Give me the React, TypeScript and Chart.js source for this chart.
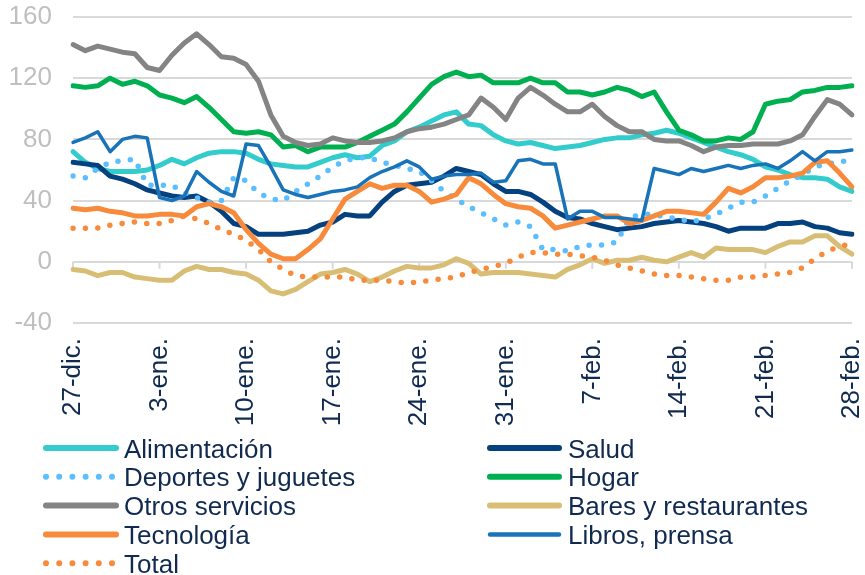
import React, { useEffect, useRef } from 'react';
import { Chart, registerables } from 'chart.js';

Chart.register(...registerables);

// Category axis: daily from 27-dic. to 28-feb.
const monthSpans: [string, number, number][] = [
  ['dic', 27, 31],
  ['ene', 1, 31],
  ['feb', 1, 28],
];
const categories: string[] = [];
for (const [m, a, b] of monthSpans) {
  for (let d = a; d <= b; d++) categories.push(`${d}-${m}.`);
}

const yTicks = [-40, 0, 40, 80, 120, 160];

const alimentacion = [72,65,61,59,59,59,60,63,67,64,68,71,72,72,71,67,64,63,62,62,65,68,70,68,69,76,79,85,88,92,96,98,90,89,83,79,77,78,76,74,75,76,78,80,81,81,83,84,86,84,81,78,75,72,70,67,62,60,57,55,55,54,49,46];
const salud = [65,64,63,56,54,51,47,45,43,42,43,39,33,25,23,18,18,18,19,20,24,26,31,30,30,39,46,50,51,52,56,61,59,57,51,46,46,44,39,33,29,28,25,23,21,22,23,25,26,27,26,25,23,20,22,22,22,25,25,26,23,22,19,18];
const deportes = [56,55,61,65,66,67,50,50,50,45,42,39,40,55,53,45,41,40,46,51,56,62,66,68,68,65,63,61,59,53,46,41,36,32,28,24,26,23,8,8,7,10,11,11,13,29,31,31,29,28,26,28,31,35,39,39,43,48,53,57,62,64,65,67];
const hogar = [115,114,115,120,116,118,115,109,107,104,108,101,93,85,84,85,83,75,76,72,75,75,75,78,82,86,90,98,107,116,121,124,121,122,117,117,117,120,117,117,111,111,109,111,114,112,108,111,98,86,83,79,79,81,80,85,103,105,106,111,112,114,114,115];
const otros = [142,138,141,139,137,136,127,125,135,143,149,142,134,133,129,118,96,82,78,76,77,81,79,78,78,79,81,85,87,88,90,93,96,107,101,93,107,114,109,103,98,98,103,95,89,85,85,80,79,79,76,72,75,76,76,77,77,77,79,83,95,106,103,96];
const bares = [-5,-6,-9,-7,-7,-10,-11,-12,-12,-6,-3,-5,-5,-7,-8,-12,-19,-21,-18,-13,-8,-7,-5,-8,-13,-10,-6,-3,-4,-4,-2,2,-1,-8,-7,-7,-7,-8,-9,-10,-5,-2,2,-1,1,1,3,1,0,3,6,3,9,8,8,8,6,10,13,13,17,17,10,5];
const tecnologia = [35,34,35,33,32,30,30,31,31,30,36,38,36,32,21,12,5,2,2,8,15,28,41,46,51,48,50,50,46,39,41,44,55,51,44,38,36,35,30,22,24,26,28,30,30,25,27,30,33,33,32,31,39,48,45,49,55,55,56,58,65,66,58,49];
const libros = [78,81,85,72,80,82,81,42,40,43,59,52,46,43,77,76,62,47,44,42,44,46,47,49,55,59,62,66,62,54,56,57,57,58,52,53,66,67,64,64,28,33,33,29,29,28,27,61,59,57,61,59,61,63,61,63,64,61,66,72,66,72,72,73];
const total = [22,22,22,24,25,26,25,25,27,30,28,25,21,18,14,8,0,-5,-9,-10,-10,-10,-10,-12,-12,-12,-13,-14,-13,-12,-11,-10,-7,-5,-3,-1,3,6,6,5,5,4,3,1,-2,-4,-6,-8,-9,-9,-10,-11,-12,-12,-10,-10,-9,-8,-7,-4,2,7,10,12];

const seriesNames = [
  'Alimentación', 'Salud', 'Deportes y juguetes', 'Hogar', 'Otros servicios',
  'Bares y restaurantes', 'Tecnología', 'Libros, prensa', 'Total',
];
const seriesData = [alimentacion, salud, deportes, hogar, otros, bares, tecnologia, libros, total];
const seriesColors = ['#33CCCC', '#05417E', '#5BBEFF', '#00B050', '#848484', '#D8BE75', '#F78B3B', '#1973B8', '#F78B3B'];
const seriesDotted = [false, false, true, false, false, false, false, false, true];
const seriesWidth = [5, 5, 5.5, 5, 5, 5, 5, 3.5, 5.5];

const FONT = '"Liberation Sans", Arial, sans-serif';
const TEXT_COLOR = '#102A50';
const GRID_COLOR = '#D9D9D9';

const zeroTicksPlugin = {
  id: 'zeroTicks',
  beforeDatasetsDraw(chart: any) {
    const { ctx, scales } = chart;
    const x = scales.x;
    const y = scales.y;
    const y0 = y.getPixelForValue(0);
    ctx.save();
    ctx.strokeStyle = GRID_COLOR;
    ctx.lineWidth = 2;
    for (let i = 0; i < categories.length; i += 7) {
      const px = x.getPixelForValue(i);
      ctx.beginPath();
      ctx.moveTo(px, y0);
      ctx.lineTo(px, y0 + 7);
      ctx.stroke();
    }
    ctx.restore();
  },
};

const legendPlugin = {
  id: 'twoColLegend',
  afterDraw(chart: any) {
    const ctx = chart.ctx;
    const datasets = chart.data.datasets;
    ctx.save();
    datasets.forEach((ds: any, i: number) => {
      const col = i % 2;
      const row = Math.floor(i / 2);
      const x0 = col === 0 ? 46 : 490;
      const x1 = col === 0 ? 116 : 559;
      const tx = col === 0 ? 124 : 568;
      const yy = 448 + row * 28.8;
      ctx.beginPath();
      ctx.strokeStyle = ds.borderColor;
      ctx.lineCap = 'round';
      if (seriesDotted[i]) {
        ctx.lineWidth = 6;
        ctx.setLineDash([0, 13.2]);
      } else {
        ctx.lineWidth = i === 7 ? 4.5 : 6;
        ctx.setLineDash([]);
      }
      ctx.moveTo(x0, yy);
      ctx.lineTo(x1, yy);
      ctx.stroke();
      ctx.setLineDash([]);
      ctx.fillStyle = TEXT_COLOR;
      ctx.font = `26px ${FONT}`;
      ctx.textAlign = 'left';
      ctx.textBaseline = 'alphabetic';
      ctx.fillText(ds.label, tx, yy + 9.5);
    });
    ctx.restore();
  },
};

export default function App() {
  const canvasRef = useRef<HTMLCanvasElement | null>(null);

  useEffect(() => {
    if (!canvasRef.current) return;
    const datasets = seriesNames.map((name, i) => ({
      label: name,
      data: seriesData[i],
      borderColor: seriesColors[i],
      backgroundColor: seriesColors[i],
      borderWidth: seriesWidth[i],
      borderDash: seriesDotted[i] ? [0, 12.4] : [],
      borderCapStyle: 'round' as const,
      borderJoinStyle: 'round' as const,
      pointRadius: 0,
      pointHoverRadius: 0,
      tension: 0,
      fill: false,
      order: seriesNames.length - i,
    }));

    const chart = new Chart(canvasRef.current, {
      type: 'line',
      data: { labels: categories, datasets },
      options: {
        responsive: false,
        animation: false,
        devicePixelRatio: 1,
        layout: { padding: { top: 17, right: 13, bottom: 142, left: 0 } },
        plugins: {
          legend: { display: false },
          tooltip: { enabled: false },
        },
        scales: {
          x: {
            type: 'category',
            offset: false,
            grid: { display: false, drawTicks: false },
            border: { display: false },
            ticks: {
              autoSkip: false,
              maxRotation: 90,
              minRotation: 90,
              padding: 15,
              color: TEXT_COLOR,
              font: { family: FONT, size: 26 },
              callback: (_v: any, i: number) => (i % 7 === 0 ? categories[i] : ''),
            },
            afterFit: (s: any) => {
              s.height = 110;
              s.paddingLeft = 0;
              s.paddingRight = 0;
            },
          },
          y: {
            min: yTicks[0],
            max: yTicks[yTicks.length - 1],
            afterBuildTicks: (s: any) => {
              s.ticks = yTicks.map((v) => ({ value: v }));
            },
            grid: { color: GRID_COLOR, lineWidth: 2, drawTicks: false },
            border: { display: false },
            ticks: {
              padding: 21,
              color: '#BFBFBF',
              font: { family: FONT, size: 26 },
            },
            afterFit: (s: any) => {
              s.width = 73;
              s.paddingTop = 0;
              s.paddingBottom = 0;
            },
          },
        },
      },
      plugins: [zeroTicksPlugin, legendPlugin],
    });
    return () => chart.destroy();
  }, []);

  return (
    <div style={{ position: 'absolute', left: 0, top: 0, width: 865, height: 575, background: '#fff' }}>
      <canvas ref={canvasRef} width={865} height={575} />
    </div>
  );
}
